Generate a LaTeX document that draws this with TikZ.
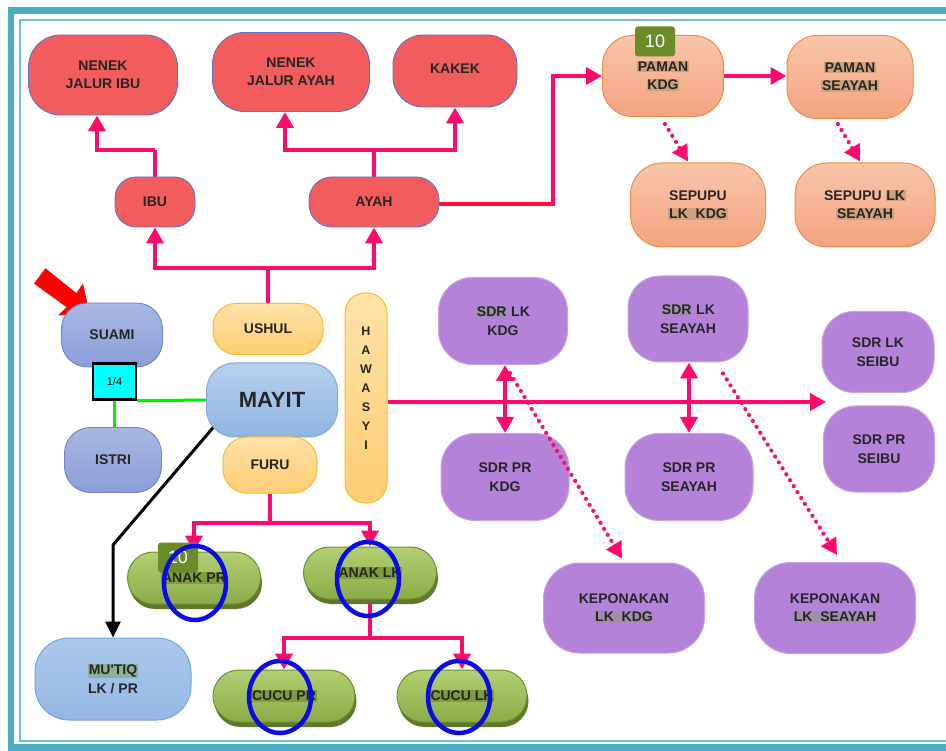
\documentclass[tikz,border=0pt]{standalone}
\usepackage{fontspec}
\setmainfont{Liberation Sans}
\usetikzlibrary{arrows.meta,calc,shapes.misc,shadows}
\definecolor{magc}{HTML}{FF0A6C}
\definecolor{redline}{HTML}{FF1030}
\definecolor{redf}{HTML}{F25C5C}
\definecolor{redd}{HTML}{5D75C4}
\definecolor{orT}{HTML}{F9C5AA}
\definecolor{orB}{HTML}{F3A47F}
\definecolor{orD}{HTML}{F08C45}
\definecolor{puF}{HTML}{B482D9}
\definecolor{puD}{HTML}{C8A2E6}
\definecolor{blT}{HTML}{A9B7E3}
\definecolor{blB}{HTML}{8B9ED7}
\definecolor{blD}{HTML}{6B85CC}
\definecolor{maT}{HTML}{B7D0EE}
\definecolor{maB}{HTML}{90B5E2}
\definecolor{maD}{HTML}{7FA7DA}
\definecolor{muT}{HTML}{ABC8EC}
\definecolor{muB}{HTML}{95B8E3}
\definecolor{muD}{HTML}{72A6DC}
\definecolor{yeT}{HTML}{FFE3A8}
\definecolor{yeB}{HTML}{FDCD72}
\definecolor{yeD}{HTML}{F5BD2E}
\definecolor{grT}{HTML}{B2CF72}
\definecolor{grB}{HTML}{8CAC48}
\definecolor{grD}{HTML}{6E8E32}
\definecolor{grS}{HTML}{5E7A28}
\definecolor{hlo}{HTML}{D0A27B}
\definecolor{hlp}{HTML}{A28DAF}
\definecolor{hlm}{HTML}{8DB09C}
\definecolor{hlg}{HTML}{7E9C3B}
\definecolor{badgec}{HTML}{6C8C2A}
\definecolor{tealc}{HTML}{4BACC6}
\definecolor{teall}{HTML}{6EC0D4}
\definecolor{elblue}{HTML}{0B0BE8}
\definecolor{greenl}{HTML}{00F000}
\definecolor{cyanbox}{HTML}{00FFFF}
\newcommand\hlt[2]{{\setlength{\fboxsep}{0.8pt}\colorbox{#1}{#2}}}
\pgfdeclarelayer{bg}
\pgfdeclarelayer{back}
\pgfsetlayers{back,bg,main}
\tikzset{
  lbl/.style={align=center, font=\bfseries\fontsize{14}{18.5}\selectfont, inner sep=0pt, text=black!85},
  redbox/.style={lbl, rectangle, fill=redf, draw=redd, line width=0.9pt},
  orbox/.style={lbl, rectangle, top color=orT, bottom color=orB, draw=orD, line width=1pt},
  pubox/.style={lbl, rectangle, fill=puF, draw=puD, line width=1pt},
  blbox/.style={lbl, rectangle, top color=blT, bottom color=blB, draw=blD, line width=0.9pt},
  mabox/.style={lbl, rectangle, top color=maT, bottom color=maB, draw=maD, line width=1pt},
  mubox/.style={lbl, rectangle, top color=muT, bottom color=muB, draw=muD, line width=1pt},
  yebox/.style={lbl, rectangle, top color=yeT, bottom color=yeB, draw=yeD, line width=1pt},
  pill/.style={lbl, rounded rectangle, top color=grT, bottom color=grB, draw=grD, line width=1pt,
    minimum height=52pt, drop shadow={shadow xshift=1.5pt, shadow yshift=-5pt, fill=grS, opacity=1}},
  tip/.tip={Triangle[width=17pt,length=16pt]},
  mag/.style={draw=magc, line width=4pt},
  marr/.style={mag, -tip},
  darr/.style={mag, tip-tip},
  dotarr/.style={draw=magc, line width=4.2pt, line cap=round, dash pattern=on 0pt off 7pt, -tip},
  gline/.style={draw=greenl, line width=3pt},
  oval/.style={draw=elblue, line width=4.5pt},
  badge/.style={fill=badgec, rounded corners=3pt, minimum width=40pt, minimum height=30pt,
    inner sep=0pt, text=white, font=\fontsize{18}{18}\selectfont},
}
\begin{document}
\begin{tikzpicture}[x=1pt,y=-1pt]
\useasboundingbox (0,0) rectangle (946,751);
\begin{pgfonlayer}{back}
\fill[white] (0,0) rectangle (946,751);
\draw[tealc, line width=6.5pt] (980,10.5) -| (11,747.5) -- (980,747.5);
\draw[teall, line width=2pt] (980,20) -| (20,740.5) -- (980,740.5);
\end{pgfonlayer}

% red nodes
\node[redbox, minimum width=149pt, minimum height=80pt, rounded corners=32pt] (nji) at (103,75) {NENEK\\JALUR IBU};
\node[redbox, minimum width=157pt, minimum height=79pt, rounded corners=32pt] (nja) at (291,72) {NENEK\\JALUR AYAH};
\node[redbox, minimum width=124pt, minimum height=72pt, rounded corners=30pt] (kakek) at (455,71) {\raisebox{5pt}{KAKEK}};
\node[redbox, minimum width=80pt, minimum height=50pt, rounded corners=21pt] (ibu) at (155,202) {IBU};
\node[redbox, minimum width=130pt, minimum height=50pt, rounded corners=23pt] (ayah) at (374,202) {AYAH};

% orange nodes
\node[orbox, minimum width=121pt, minimum height=81pt, rounded corners=30pt] (pkdg) at (663,76) {\hlt{hlo}{PAMAN}\\\hlt{hlo}{KDG}};
\node[orbox, minimum width=126pt, minimum height=83pt, rounded corners=30pt] (pseayah) at (850,77) {\hlt{hlo}{PAMAN}\\\hlt{hlo}{SEAYAH}};
\node[orbox, minimum width=135pt, minimum height=84pt, rounded corners=32pt] (slkkdg) at (698,205) {SEPUPU\\\hlt{hlo}{LK\ \ KDG}};
\node[orbox, minimum width=140pt, minimum height=84pt, rounded corners=32pt] (slkseayah) at (865,205) {SEPUPU \hlt{hlo}{LK}\\\hlt{hlo}{SEAYAH}};

% red pointer arrow (behind SUAMI)
\begin{pgfonlayer}{bg}
\fill[red] (45.4,268.2) -- (76.4,293.2) -- (83,283.5) -- (89.6,313.2) -- (58,315.5) -- (66.6,307.2) -- (34,283.6) -- cycle;
\end{pgfonlayer}

% blue / yellow nodes
\node[blbox, minimum width=101pt, minimum height=64pt, rounded corners=26pt] (suami) at (112,335) {SUAMI};
\node[blbox, minimum width=97pt, minimum height=65pt, rounded corners=26pt] (istri) at (113,460) {ISTRI};
\node[rectangle, fill=cyanbox, draw=black, line width=2.5pt, minimum width=43pt, minimum height=36pt, inner sep=0pt,
  font=\fontsize{11}{11}\selectfont] (quarter) at (114.5,381.5) {1/4};
\node[mabox, minimum width=131pt, minimum height=74pt, rounded corners=28pt, font=\bfseries\fontsize{22}{22}\selectfont] (mayit) at (272,400) {MAYIT};
\node[mubox, minimum width=156pt, minimum height=82pt, rounded corners=34pt] (mutiq) at (113,679) {\hlt{hlm}{MU\textquotesingle TIQ}\\LK / PR};
\node[yebox, minimum width=110pt, minimum height=51pt, rounded corners=23pt] (ushul) at (268,329) {USHUL};
\node[yebox, minimum width=94pt, minimum height=56pt, rounded corners=24pt] (furu) at (270,465) {FURU};
\node[yebox, minimum width=42pt, minimum height=210pt, rounded corners=20pt] (hawasyi) at (366,398) {};
\node[lbl, font=\bfseries\fontsize{12.5}{19}\selectfont] (hawtext) at (366,388) {H\\A\\W\\A\\S\\Y\\I};

% purple nodes
\node[pubox, minimum width=129pt, minimum height=87pt, rounded corners=34pt] (sdrlkkdg) at (503,321) {\hlt{hlp}{SDR} LK\\KDG};
\node[pubox, minimum width=120pt, minimum height=86pt, rounded corners=32pt] (sdrlkseayah) at (688,319) {\hlt{hlp}{SDR} LK\\SEAYAH};
\node[pubox, minimum width=112pt, minimum height=81pt, rounded corners=32pt] (sdrlkseibu) at (878,352) {SDR LK\\SEIBU};
\node[pubox, minimum width=111pt, minimum height=86pt, rounded corners=32pt] (sdrprseibu) at (879,449) {SDR PR\\SEIBU};
\node[pubox, minimum width=128pt, minimum height=87pt, rounded corners=34pt] (sdrprkdg) at (505,477) {SDR PR\\KDG};
\node[pubox, minimum width=128pt, minimum height=87pt, rounded corners=34pt] (sdrprseayah) at (689,477) {SDR PR\\SEAYAH};
\node[pubox, minimum width=161pt, minimum height=90pt, rounded corners=36pt] (kepkdg) at (624,608) {KEPONAKAN\\\hlt{hlp}{LK\ \ KDG}};
\node[pubox, minimum width=161pt, minimum height=91pt, rounded corners=36pt] (kepseayah) at (835,608) {KEPONAKAN\\\hlt{hlp}{LK\ \ SEAYAH}};

% green pills
\node[pill, minimum width=133pt] (anakpr) at (194,578) {\hlt{hlg}{ANAK PR}};
\node[pill, minimum width=133pt] (anaklk) at (370,573) {\hlt{hlg}{ANAK LK}};
\node[pill, minimum width=142pt] (cucupr) at (284,696) {\hlt{hlg}{CUCU PR}};
\node[pill, minimum width=130pt] (cuculk) at (462,696) {\hlt{hlg}{CUCU LK}};

% connectors
\begin{pgfonlayer}{bg}
\draw[mag] (ibu.north) -- ++(0,-27) coordinate (ij);
\draw[marr] (ij) -| ($(nji.south)+(-6,0)$);
\draw[mag] (ayah.north) -- ++(0,-27) coordinate (aj);
\draw[marr] (aj) -| ($(nja.south)+(-6,0)$);
\draw[marr] (aj) -| (kakek.south);
\draw[mag] (ushul.north) -- ++(0,-35) coordinate (uj);
\draw[marr] (uj) -| (ibu.south);
\draw[marr] (uj) -| (ayah.south);
\coordinate (pbend) at (553,204);
\draw[draw=redline, line width=4pt] ($(ayah.east)+(0,2)$) -- (pbend);
\draw[marr] ($(pbend)+(0,2)$) |- (pkdg.west);
\draw[marr] (pkdg.east) -- (pkdg.east -| pseayah.west);
\draw[dotarr] ($(pkdg.south)+(2,7)$) -- ($(slkkdg.north)+(-10,-1)$);
\draw[dotarr] ($(pseayah.south)+(-12,5)$) -- ($(slkseayah.north)+(-5,-1)$);
\draw[gline] (quarter.south) -- (quarter.south |- istri.north);
\draw[gline] (quarter.south east) -- (mayit.west);
\coordinate (mbend) at (113,545);
\draw[line width=3pt, line join=round, -{Triangle[width=15pt,length=16pt]}] ($(mayit.center)+(-49,16)$) -- (mbend) -- (mutiq.north);
\coordinate (hend) at (826,402);
\draw[marr] ($(hawasyi.east)+(0,4)$) -- (hend);
\draw[darr] (sdrlkkdg.south -| sdrprkdg.north) -- (sdrprkdg.north);
\draw[darr] (sdrlkseayah.south -| sdrprseayah.north) -- (sdrprseayah.north);
\draw[dotarr] ($(sdrlkseayah.south)+(35,11)$) -- ($(kepseayah.north)+(2,-7)$);
\draw[mag] (furu.south) -- ++(0,29) coordinate (fj);
\draw[marr] (fj) -| (anakpr.north);
\draw[marr] (fj) -| (anaklk.north);
\draw[mag] (anaklk.south) -- ++(0,38) coordinate (lj);
\draw[marr] (lj) -| (cucupr.north);
\draw[marr] (lj) -| (cuculk.north);
\end{pgfonlayer}
% dotted arrow drawn over SDR PR KDG
\draw[dotarr] ($(sdrlkkdg.south)+(7,8)$) -- ($(kepkdg.north)+(-2,-4)$);

% badges
\node[badge] (b1) at (655,41.5) {10};
\node[badge] (b2) at (178,557.5) {10};

% blue ovals
\draw[oval] (195,583) ellipse [x radius=31pt, y radius=37pt];
\draw[oval] (368,579) ellipse [x radius=31pt, y radius=37pt];
\draw[oval] (280,697) ellipse [x radius=31pt, y radius=36pt];
\draw[oval] (459,697) ellipse [x radius=31pt, y radius=36pt];
\end{tikzpicture}
\end{document}
